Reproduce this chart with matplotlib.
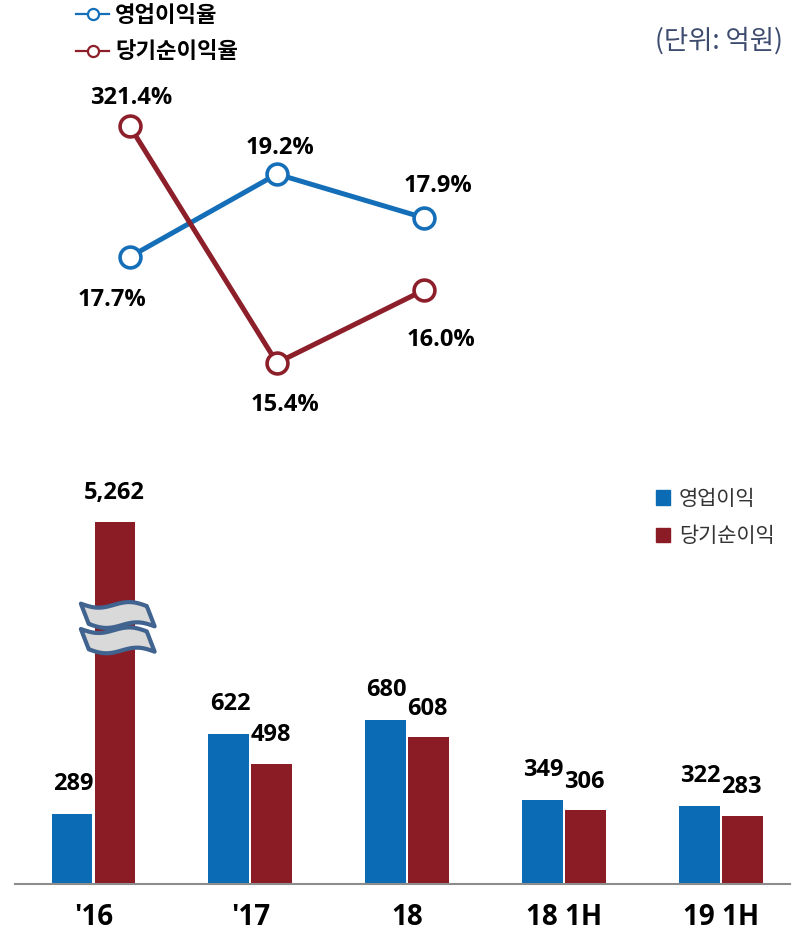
import matplotlib as mpl
import matplotlib.pyplot as plt
import numpy as np
from matplotlib.lines import Line2D
from matplotlib.patches import Patch, Polygon

mpl.rcParams['font.family'] = ['Noto Sans CJK KR', 'DejaVu Sans']
num_font = ['Open Sans', 'Noto Sans CJK KR']

# ---------------------------------------------------------------------------- #
# data

years = ["'16", "'17", '18', '18 1H', '19 1H']

# line chart (margins); labels are the real values, levels are how high the
# points sit in the drawing (the original uses a stylized, non-linear scale)
margin_years = ["'16", "'17", '18']
op_margin_labels = ['17.7%', '19.2%', '17.9%']
net_margin_labels = ['321.4%', '15.4%', '16.0%']
op_margin_level = [44.7, 70.6, 56.9]
net_margin_level = [85.6, 11.6, 34.4]

# bar chart (억원)
op_profit = [289, 622, 680, 349, 322]
net_profit = [5262, 498, 608, 306, 283]
break_cap = 1500   # bars taller than this are drawn broken

blue = '#0b6bb5'
red = '#8b1c25'
line_blue = '#156fb8'
line_red = '#8c1f2a'

fig = plt.figure(figsize=(7.96, 9.38), dpi=100)

# ---------------------------------------------------------------------------- #
# top: margin lines

ax1 = fig.add_axes([56/796, (938-400)/938, 442/796, 320/938])
xl = np.arange(len(margin_years))
ax1.plot(xl, op_margin_level, color=line_blue, lw=3.6, marker='o', ms=15,
         mfc='white', mec=line_blue, mew=2.6, zorder=3)
ax1.plot(xl, net_margin_level, color=line_red, lw=3.6, marker='o', ms=15,
         mfc='white', mec=line_red, mew=2.6, zorder=3)
ax1.set_xlim(-0.5, 2.5)
ax1.set_ylim(0, 100)
ax1.axis('off')

op_off = [(-13, -31), (2, 19), (10, 23)]
net_off = [(1, 20), (6, -30), (12, -36)]
for i in range(len(margin_years)):
    ax1.annotate(op_margin_labels[i], (xl[i], op_margin_level[i]),
                 xytext=op_off[i], textcoords='offset points',
                 ha='center', va='center', fontsize=17, fontweight='bold',
                 family=num_font)
    ax1.annotate(net_margin_labels[i], (xl[i], net_margin_level[i]),
                 xytext=net_off[i], textcoords='offset points',
                 ha='center', va='center', fontsize=17, fontweight='bold',
                 family=num_font)

leg_handles = [
    Line2D([], [], color=line_blue, lw=1.6, marker='o', ms=8, mfc='white',
           mec=line_blue, mew=1.6),
    Line2D([], [], color=line_red, lw=1.6, marker='o', ms=8, mfc='white',
           mec=line_red, mew=1.6),
]
fig.legend(leg_handles, ['영업이익율', '당기순이익율'],
           loc='upper left', bbox_to_anchor=(56/796, 1.017), frameon=False,
           prop={'size': 16, 'weight': 'bold'}, handlelength=1.5,
           handletextpad=0.25, labelspacing=0.6)

fig.text(783/796, 1 - 41/938, '(단위: 억원)', ha='right', va='center',
         fontsize=19, color='#3d4c6e')

# ---------------------------------------------------------------------------- #
# bottom: profit bars

ax2 = fig.add_axes([15/796, (938-884)/938, 775/796, 386/938])
x = np.arange(len(years))
w = 0.26
net_drawn = [min(v, break_cap) for v in net_profit]
ax2.bar(x - w/2 - 0.007, op_profit, w, color=blue, zorder=2)
ax2.bar(x + w/2 + 0.007, net_drawn, w, color=red, zorder=2)
ax2.set_xlim(-0.5, 4.44)
ax2.set_ylim(0, 1600)

for i in range(len(years)):
    ax2.annotate(format(op_profit[i], ','), (x[i] - w/2, op_profit[i]),
                 xytext=(0, 13), textcoords='offset points', ha='center',
                 va='bottom', fontsize=17, fontweight='bold', family=num_font)
    ax2.annotate(format(net_profit[i], ','), (x[i] + w/2, net_drawn[i]),
                 xytext=(0, 12), textcoords='offset points', ha='center',
                 va='bottom', fontsize=17, fontweight='bold', family=num_font)

# break symbol on the tall bar
for yc in [1120, 1015]:
    t = np.linspace(0, 1, 40)
    xs = x[0] + w/2 - 0.21 + 0.42*t
    wave = -14*np.sin(2*np.pi*t) - 10*t
    top = yc + 42 + wave
    bot = yc - 42 + wave
    pts = np.vstack([np.column_stack([xs, top]),
                     np.column_stack([xs[::-1] + 0.05, bot[::-1]])])
    ax2.add_patch(Polygon(pts, closed=True, facecolor='#d9d9d9',
                          edgecolor='#41638f', lw=3, joinstyle='round',
                          zorder=4))

for s in ['left', 'right', 'top']:
    ax2.spines[s].set_visible(False)
ax2.spines['bottom'].set_color('#8c8c8c')
ax2.spines['bottom'].set_linewidth(1.5)
ax2.set_yticks([])
ax2.set_xticks(x)
ax2.set_xticklabels(years, fontsize=20, fontweight='bold', family=num_font)
ax2.tick_params(axis='x', length=0, pad=14)

bar_handles = [Patch(color=blue), Patch(color=red)]
ax2.legend(bar_handles, ['영업이익', '당기순이익'], loc='upper left',
           bbox_to_anchor=(622/775, 1.075), frameon=False,
           prop={'size': 15}, labelcolor='#333333', handlelength=0.7,
           handleheight=0.7, handletextpad=0.4, labelspacing=0.75)

plt.savefig('out.png', dpi=100)
